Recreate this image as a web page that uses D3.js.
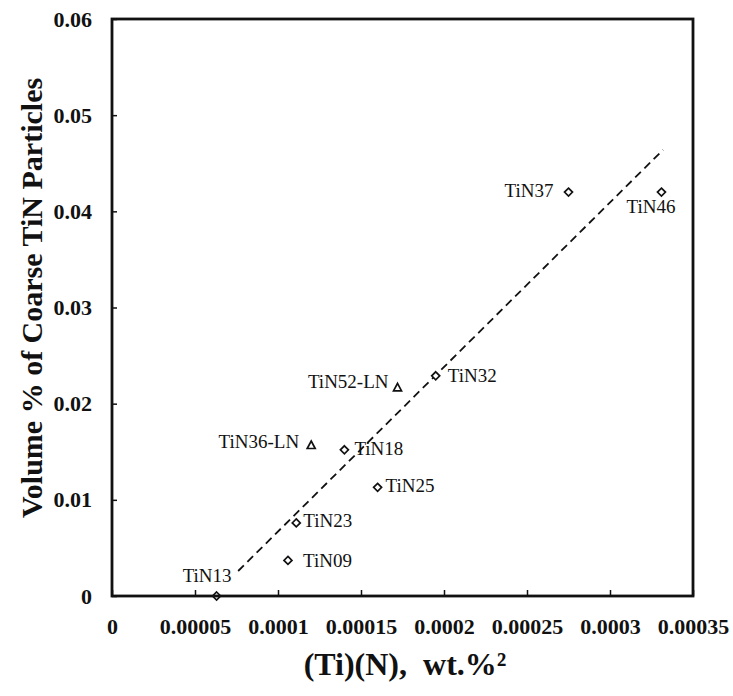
<!DOCTYPE html>
<html lang="en">
<head>
<meta charset="UTF-8">
<title>Coarse TiN particles</title>
<script src="https://cdn.jsdelivr.net/npm/d3@7/dist/d3.min.js"></script>
<style>
body { margin: 0; background: #fff; }
text { font-family: "Liberation Serif", "Times New Roman", serif; fill: #111; }
.tick-label { font-weight: bold; font-size: 22px; }
.axis-title { font-weight: bold; font-size: 30px; }
.x-title { font-size: 32px; }
.pt-label { font-size: 19px; }
</style>
</head>
<body>
<svg width="733" height="696"></svg>
<script>
// samples
var names = ["TiN37", "TiN46", "TiN32", "TiN52-LN", "TiN36-LN", "TiN18", "TiN25", "TiN23", "TiN09", "TiN13"];
var tiN   = [0.000275, 0.000331, 0.000195, 0.000172, 0.000120, 0.000140, 0.000160, 0.000111, 0.000106, 0.000063];
var vol   = [0.0420, 0.0420, 0.0229, 0.0217, 0.0157, 0.0152, 0.0113, 0.0076, 0.0037, 0.0];
var group = ["std", "std", "std", "LN", "LN", "std", "std", "std", "std", "std"];

// dashed fit line end points
var fitX = [0.000076, 0.000332];
var fitY = [0.0026, 0.0464];

var xTicks = [0, 0.00005, 0.0001, 0.00015, 0.0002, 0.00025, 0.0003, 0.00035];
var xTickText = ["0", "0.00005", "0.0001", "0.00015", "0.0002", "0.00025", "0.0003", "0.00035"];
var yTicks = [0, 0.01, 0.02, 0.03, 0.04, 0.05, 0.06];
var yTickText = ["0", "0.01", "0.02", "0.03", "0.04", "0.05", "0.06"];

// label offsets from the marker (px)
var labelPos = {
  "TiN37": [-15, 5, "end"], "TiN46": [-35, 21, "start"], "TiN32": [12, 6, "start"],
  "TiN52-LN": [-9, 1, "end"], "TiN36-LN": [-12, 3, "end"], "TiN18": [10, 5, "start"],
  "TiN25": [8, 5, "start"], "TiN23": [7, 4, "start"], "TiN09": [15, 7, "start"],
  "TiN13": [15, -14, "end"]
};

var svg = d3.select("svg");
var pl = 112, pr = 693, pt = 19, pb = 596;

var x = d3.scaleLinear().domain([0, 0.00035]).range([pl, pr]);
var y = d3.scaleLinear().domain([0, 0.06]).range([pb, pt]);

var pts = names.map(function(n, i) { return { name: n, x: tiN[i], y: vol[i], g: group[i] }; });

// fit line
svg.append("path")
  .datum(d3.zip(fitX, fitY))
  .attr("d", d3.line().x(function(d) { return x(d[0]); }).y(function(d) { return y(d[1]); }))
  .attr("fill", "none").attr("stroke", "#111")
  .attr("stroke-width", 1.8).attr("stroke-dasharray", "8,5");

// markers
svg.selectAll(".mk").data(pts).enter().append("path")
  .attr("class", "mk")
  .attr("transform", function(d) { return "translate(" + x(d.x) + "," + y(d.y) + ")"; })
  .attr("d", function(d) {
    return d.g == "LN" ? "M0,-4L4,3.5L-4,3.5Z" : "M0,-4L4,0L0,4L-4,0Z";
  })
  .attr("fill", "#fff").attr("stroke", "#111").attr("stroke-width", 1.7);

svg.selectAll(".pt-label").data(pts).enter().append("text")
  .attr("class", "pt-label")
  .attr("x", function(d) { return x(d.x) + labelPos[d.name][0]; })
  .attr("y", function(d) { return y(d.y) + labelPos[d.name][1]; })
  .attr("text-anchor", function(d) { return labelPos[d.name][2]; })
  .text(function(d) { return d.name; });

// frame
svg.append("rect")
  .attr("x", pl).attr("y", pt)
  .attr("width", pr - pl).attr("height", pb - pt)
  .attr("fill", "none").attr("stroke", "#111").attr("stroke-width", 2.8);

// axes with inward ticks
var xAxis = svg.append("g").attr("transform", "translate(0," + pb + ")")
  .call(d3.axisBottom(x).tickValues(xTicks).tickSizeInner(-6).tickSizeOuter(0)
    .tickFormat(function(d, i) { return xTickText[i]; }).tickPadding(22));
var yAxis = svg.append("g").attr("transform", "translate(" + pl + ",0)")
  .call(d3.axisLeft(y).tickValues(yTicks).tickSizeInner(-5).tickSizeOuter(0)
    .tickFormat(function(d, i) { return yTickText[i]; }).tickPadding(20));

[xAxis, yAxis].forEach(function(a) {
  a.select(".domain").remove();
  a.selectAll("line").attr("stroke", "#111").attr("stroke-width", 1.5);
  a.selectAll("text").attr("class", "tick-label").attr("fill", "#111");
});

// titles
svg.append("text").attr("class", "axis-title x-title")
  .attr("x", 405).attr("y", 675).attr("text-anchor", "middle")
  .attr("xml:space", "preserve")
  .text("(Ti)(N),  wt.%\u00b2");

svg.append("text").attr("class", "axis-title")
  .attr("transform", "translate(42,298) rotate(-90)")
  .attr("text-anchor", "middle")
  .text("Volume % of Coarse TiN Particles");
</script>
</body>
</html>
